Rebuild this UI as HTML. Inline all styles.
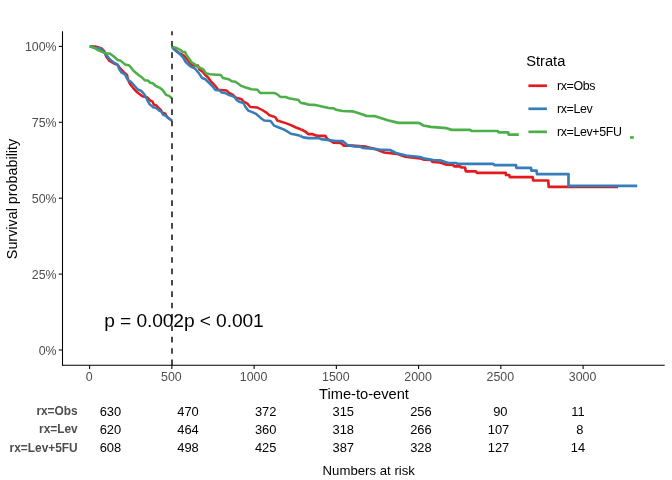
<!DOCTYPE html>
<html lang="en"><head><meta charset="utf-8"><title>Survival plot</title>
<style>html,body{margin:0;padding:0;background:#fff}svg{display:block;will-change:transform}text{font-family:"Liberation Sans",Arial,Helvetica,sans-serif}</style></head><body>
<svg width="672" height="480" viewBox="0 0 672 480">
<rect width="672" height="480" fill="#fff"/>
<g>
<polyline points="89.7,46.3 95.2,46.4 101.8,48.5 104.2,51 106.2,56.5 109.5,61 114,63.5 117.5,64.8 119.5,67.5 123.5,71.8 127,75 128.3,80.5 130,84 132.8,87.6 136.2,91.4 139.5,93.9 142.4,96.2 147,97.2 150,100.3 152.5,101.6 153.75,104.5 156.7,105.75 158.3,107.8 160.8,109.9 162.5,112.8 165.4,113.8 167,117 171.85,120.6" fill="none" stroke="#E41A1C" stroke-width="2.5" stroke-linejoin="round" stroke-linecap="butt"/>
<polyline points="171.85,46.6 174.5,49.3 177.5,51.8 180.8,54 183.8,55.4 186.75,59.2 189.7,62.5 192.2,65 195.5,65.8 198,65.6 199.25,69.2 202.5,71.75 205,74.7 207.9,77.2 210.8,81.3 213.75,84.25 216.7,87.6 217.9,89.7 226.7,90.5 228.75,92.6 233.3,95.1 235.8,97.6 241.7,99.25 243.75,101.75 247.1,103.4 250.3,107 257,107.4 262.2,110 266.4,112.6 269.5,115.25 275.25,117.1 277.3,120.5 285.7,123.1 290.9,125.1 296,127.5 301.2,129.5" fill="none" stroke="#E41A1C" stroke-width="2.5" stroke-linejoin="round" stroke-linecap="butt"/>
<polyline points="301.2,129.5 305.4,131.6 308.5,134.2 312.7,134.2 316.8,135.8 325.2,135.8 327.25,138.9 333.5,142.6 340.8,142.9 343.9,145.7 352.25,145.7 366,146.7 376,149.2 384.3,152.5 396.8,153.8 405.2,156.7 420,158.3 424.2,159.7 430.8,160 432.5,162 440,162.5 446.7,164.7 453.3,165 454.2,166.3 460,166.3 461.3,167.5 465,167.5 465.8,171.3 475.8,171.3 477,172.8 505.7,172.8 506,175 509.3,175 509.8,177.2 532.7,177.2 533.2,180.5 548.2,180.5 548.7,186.9 618,186.9" fill="none" stroke="#E41A1C" stroke-width="2.7" stroke-linejoin="round" stroke-linecap="butt"/>
<polyline points="89.7,46.3 94.3,47.7 100.2,48.5 103.9,52.1 106.8,55.4 109.75,59.2 114.3,62.9 117.7,64.6 118.9,68.3 121.4,72.5 125.2,74.6 127.8,79.9 131.2,82 134.5,85.75 137.8,89.5 141.6,91.2 144.5,94.5 147,99.5 149.5,104.1 153.3,107.4 156.25,108.1 159.4,110.75 161.7,112 162.9,114.5 165.8,115.75 169.2,118.7 171.85,120.6" fill="none" stroke="#377EB8" stroke-width="2.5" stroke-linejoin="round" stroke-linecap="butt"/>
<polyline points="171.85,46.6 174.25,49.6 177.2,52.1 180.5,54.6 183.4,57.9 185.1,61.25 188.8,65 190.9,66.7 194.7,68.3 198,72.1 200.1,75 202.1,78 205.4,79.25 209.2,83 212.5,86.3 215.4,90.1 220,90.5 221.7,92.6 225,93 229.2,95.1 234.2,96.75 236.7,100.1 239.2,101.75 243.3,103 245.4,106.75 248.2,110.6 252.3,112.1 256.5,114.2 260.7,117.9 264.3,120.5 270.6,121 274.2,125.7 279.4,127.75 283.6,129.3 287.2,131.4 290.9,133.7 296,134.75 300.2,135.8" fill="none" stroke="#377EB8" stroke-width="2.5" stroke-linejoin="round" stroke-linecap="butt"/>
<polyline points="300.2,135.8 303.3,137.35 308.5,138.1 318.9,138.1 321,139.1 329.3,140.2 335.6,141 342.9,141.2 347.6,145.2 354.3,146.4 360.6,146.7 362.7,147.8 369.3,148.3 379.3,149.5 390.2,150 396,153 406,155.5 420,157 425,158.7 433.3,160 440,160.3 447.5,162.8 455.8,163 457.5,163.8 493.3,163.8 494.5,165.2 516,165.2 516.4,167.8 531,167.8 531.4,170.6 536.6,170.6 537,174.2 568.5,174.2 568.5,185.9 637.2,185.9" fill="none" stroke="#377EB8" stroke-width="2.7" stroke-linejoin="round" stroke-linecap="butt"/>
<polyline points="89.7,46.3 94.3,47.9 98.5,50.4 104.3,52.9 110.2,53.75 113.5,56.25 117.7,60 120.2,60.4 125.2,64.6 129.3,65.4 133.5,70.8 138.5,75 142.4,77.8 144.9,80.3 148.25,80.75 150.3,82.8 152.8,83.25 155.3,85.75 159.9,87.8 162.8,90.3 166.2,94.9 169.5,96.2 171.85,98.2" fill="none" stroke="#4DAF4A" stroke-width="2.5" stroke-linejoin="round" stroke-linecap="butt"/>
<polyline points="171.85,46.6 176.3,47.9 180.5,50 182.6,51.7 185.1,52.1 186.75,55.4 188.8,58.3 191.75,62.5 194.7,64.2 196.75,66.25 203.4,69.4 205.1,72.1 206.5,73.5 210,74.25 220.8,75.1 222.9,78 228.75,79.25 231.7,81.3 235.4,81.75 238.3,83.8 241.25,85.9 245,87.2 251.3,89.2 257.5,89.7 260.1,92.9 274.2,92.9 277.3,94.4 280.5,97 285.7,97 289.8,98.6 298.7,100.1 300.25,102.75" fill="none" stroke="#4DAF4A" stroke-width="2.5" stroke-linejoin="round" stroke-linecap="butt"/>
<polyline points="300.25,102.75 303.9,103.3 308.6,104.6 314,104.8 318.7,105.8 328.7,108 333.7,108.3 336,109.7 342.5,111 352.5,111.3 363.5,114.7 366,115.8 375.2,116.2 387.7,120.3 398.5,122.9 417.7,122.9 420,123.4 423.3,125.5 430.8,126.9 440,127.7 446.7,128.2 451.7,129.9 470,129.9 471.7,131 497.5,131 498.7,132.4 508.2,132.4 508.6,134.6 518.8,134.6" fill="none" stroke="#4DAF4A" stroke-width="2.7" stroke-linejoin="round" stroke-linecap="butt"/>
<polyline points="630,137.5 633.8,137.5" fill="none" stroke="#4DAF4A" stroke-width="2.7" stroke-linejoin="round" stroke-linecap="butt"/>
</g>
<line x1="172" y1="365.25" x2="172" y2="31.3" stroke="#000" stroke-width="1.42" stroke-dasharray="5.69 5.69"/>
<g stroke="#000" stroke-width="1.07" fill="none">
<line x1="62.5" y1="31.3" x2="62.5" y2="365.8"/>
<line x1="62" y1="365.25" x2="664.7" y2="365.25"/>
<line x1="58.8" y1="350.00" x2="62.5" y2="350.00"/>
<line x1="58.8" y1="274.10" x2="62.5" y2="274.10"/>
<line x1="58.8" y1="198.20" x2="62.5" y2="198.20"/>
<line x1="58.8" y1="122.30" x2="62.5" y2="122.30"/>
<line x1="58.8" y1="46.40" x2="62.5" y2="46.40"/>
<line x1="89.60" y1="365.25" x2="89.60" y2="368.9"/>
<line x1="171.85" y1="365.25" x2="171.85" y2="368.9"/>
<line x1="254.10" y1="365.25" x2="254.10" y2="368.9"/>
<line x1="336.35" y1="365.25" x2="336.35" y2="368.9"/>
<line x1="418.60" y1="365.25" x2="418.60" y2="368.9"/>
<line x1="500.85" y1="365.25" x2="500.85" y2="368.9"/>
<line x1="583.10" y1="365.25" x2="583.10" y2="368.9"/>
</g>
<g font-size="12.4" fill="#4D4D4D">
<text x="56.6" y="354.50" text-anchor="end">0%</text>
<text x="56.6" y="278.60" text-anchor="end">25%</text>
<text x="56.6" y="202.70" text-anchor="end">50%</text>
<text x="56.6" y="126.80" text-anchor="end">75%</text>
<text x="56.6" y="50.90" text-anchor="end">100%</text>
<text x="89.10" y="380.75" text-anchor="middle">0</text>
<text x="171.35" y="380.75" text-anchor="middle">500</text>
<text x="253.60" y="380.75" text-anchor="middle">1000</text>
<text x="335.85" y="380.75" text-anchor="middle">1500</text>
<text x="418.10" y="380.75" text-anchor="middle">2000</text>
<text x="500.35" y="380.75" text-anchor="middle">2500</text>
<text x="582.60" y="380.75" text-anchor="middle">3000</text>
</g>
<text x="364" y="398.75" font-size="14.67" text-anchor="middle" fill="#000">Time-to-event</text>
<text transform="translate(17,199) rotate(-90)" font-size="14.35" text-anchor="middle" fill="#000">Survival probability</text>
<text x="104.3" y="327.2" font-size="19.2" letter-spacing="-0.105" fill="#000">p = 0.002</text>
<text x="184.0" y="327.2" font-size="19.2" letter-spacing="-0.105" fill="#000">p &lt; 0.001</text>
<text x="526.2" y="65.8" font-size="14.67" fill="#000">Strata</text>
<line x1="528.4" y1="85.75" x2="546.9" y2="85.75" stroke="#E41A1C" stroke-width="2.7"/>
<text x="557" y="90.05" font-size="12.4" letter-spacing="-0.36" fill="#000">rx=Obs</text>
<line x1="528.4" y1="108.79" x2="546.9" y2="108.79" stroke="#377EB8" stroke-width="2.7"/>
<text x="557" y="113.09" font-size="12.4" letter-spacing="-0.36" fill="#000">rx=Lev</text>
<line x1="528.4" y1="131.83" x2="546.9" y2="131.83" stroke="#4DAF4A" stroke-width="2.7"/>
<text x="557" y="136.13" font-size="12.4" letter-spacing="-0.36" fill="#000">rx=Lev+5FU</text>
<text x="77.7" y="415.00" font-size="11.9" font-weight="bold" fill="#4D4D4D" text-anchor="end">rx=Obs</text>
<text x="110.40" y="415.70" font-size="12.9" fill="#000" text-anchor="middle">630</text>
<text x="188.03" y="415.70" font-size="12.9" fill="#000" text-anchor="middle">470</text>
<text x="265.66" y="415.70" font-size="12.9" fill="#000" text-anchor="middle">372</text>
<text x="343.29" y="415.70" font-size="12.9" fill="#000" text-anchor="middle">315</text>
<text x="420.92" y="415.70" font-size="12.9" fill="#000" text-anchor="middle">256</text>
<text x="498.55" y="415.70" font-size="12.9" fill="#000" text-anchor="middle">&#160;90</text>
<text x="576.18" y="415.70" font-size="12.9" fill="#000" text-anchor="middle">&#160;11</text>
<text x="77.7" y="433.20" font-size="11.9" font-weight="bold" fill="#4D4D4D" text-anchor="end">rx=Lev</text>
<text x="110.40" y="433.70" font-size="12.9" fill="#000" text-anchor="middle">620</text>
<text x="188.03" y="433.70" font-size="12.9" fill="#000" text-anchor="middle">464</text>
<text x="265.66" y="433.70" font-size="12.9" fill="#000" text-anchor="middle">360</text>
<text x="343.29" y="433.70" font-size="12.9" fill="#000" text-anchor="middle">318</text>
<text x="420.92" y="433.70" font-size="12.9" fill="#000" text-anchor="middle">266</text>
<text x="498.55" y="433.70" font-size="12.9" fill="#000" text-anchor="middle">107</text>
<text x="576.18" y="433.70" font-size="12.9" fill="#000" text-anchor="middle">&#160;&#160;8</text>
<text x="77.7" y="451.90" font-size="11.9" font-weight="bold" fill="#4D4D4D" text-anchor="end">rx=Lev+5FU</text>
<text x="110.40" y="451.60" font-size="12.9" fill="#000" text-anchor="middle">608</text>
<text x="188.03" y="451.60" font-size="12.9" fill="#000" text-anchor="middle">498</text>
<text x="265.66" y="451.60" font-size="12.9" fill="#000" text-anchor="middle">425</text>
<text x="343.29" y="451.60" font-size="12.9" fill="#000" text-anchor="middle">387</text>
<text x="420.92" y="451.60" font-size="12.9" fill="#000" text-anchor="middle">328</text>
<text x="498.55" y="451.60" font-size="12.9" fill="#000" text-anchor="middle">127</text>
<text x="576.18" y="451.60" font-size="12.9" fill="#000" text-anchor="middle">&#160;14</text>
<text x="368.75" y="474.8" font-size="13.2" text-anchor="middle" fill="#000">Numbers at risk</text>
</svg></body></html>
